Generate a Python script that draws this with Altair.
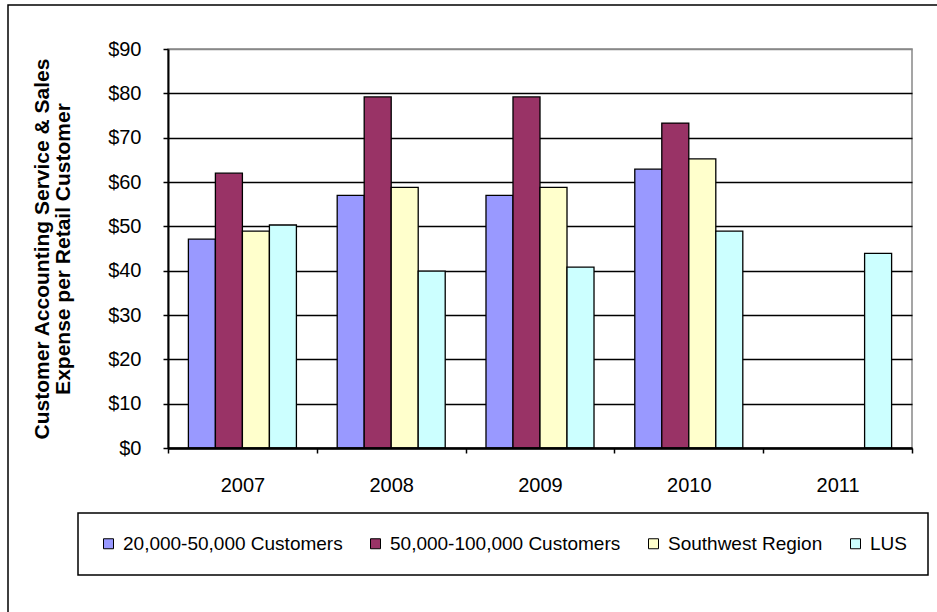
import altair as alt
import pandas as pd

years = ["2007", "2008", "2009", "2010", "2011"]
series = ["20,000-50,000 Customers", "50,000-100,000 Customers", "Southwest Region", "LUS"]
s_20_50k = [47.1, 57.0, 57.0, 62.9, None]
s_50_100k = [62.0, 79.2, 79.2, 73.3, None]
s_southwest = [48.9, 58.8, 58.8, 65.2, None]
s_lus = [50.3, 39.9, 40.8, 48.9, 43.9]
colors = ["#9999FF", "#993366", "#FFFFCC", "#CCFFFF"]
y_ticks = [0, 10, 20, 30, 40, 50, 60, 70, 80, 90]

rows = []
for name, vals in zip(series, [s_20_50k, s_50_100k, s_southwest, s_lus]):
    for yr, v in zip(years, vals):
        if v is not None:
            rows.append({"Year": yr, "Series": name, "Value": v})
df = pd.DataFrame(rows)

FONT = "Liberation Sans"

bars = alt.Chart(df).mark_bar(stroke="black", strokeWidth=1.3).encode(
    x=alt.X(
        "Year:N",
        sort=years,
        scale=alt.Scale(domain=years, paddingInner=0, paddingOuter=0),
        axis=alt.Axis(
            title=None,
            labelAngle=0,
            labelFontSize=20,
            labelColor="black",
            labelPadding=22,
            tickSize=5,
            tickWidth=1.5,
            tickColor="black",
            tickBand="extent",
            domainColor="black",
            domainWidth=2.5,
            grid=False,
            zindex=1,
        ),
    ),
    xOffset=alt.XOffset(
        "Series:N",
        sort=series,
        scale=alt.Scale(domain=series, paddingInner=0, paddingOuter=0.755),
    ),
    y=alt.Y(
        "Value:Q",
        scale=alt.Scale(domain=[0, 90], nice=False),
        axis=alt.Axis(
            values=y_ticks,
            format="$,.0f",
            title=["Customer Accounting Service & Sales", "Expense per Retail Customer"],
            titleFontSize=21,
            titleFontWeight="bold",
            titleColor="black",
            titleAngle=270,
            titleX=-126,
            titleY=199.5,
            titleAlign="center",
            titleBaseline="middle",
            titleLineHeight=21,
            labelFontSize=20,
            labelColor="black",
            labelPadding=22,
            tickSize=5,
            tickWidth=1.5,
            tickColor="black",
            domainColor="black",
            domainWidth=2,
            grid=True,
            gridColor=alt.condition("datum.value == 90", alt.value("#888888"), alt.value("black")),
            gridWidth=1.3,
            zindex=0,
        ),
    ),
    color=alt.Color(
        "Series:N",
        sort=series,
        scale=alt.Scale(domain=series, range=colors),
        legend=alt.Legend(
            title=None,
            orient="none",
            legendX=-90,
            legendY=464,
            direction="horizontal",
            strokeColor="black",
            fillColor="white",
            padding=21,
            symbolType="square",
            symbolSize=100,
            symbolStrokeColor="black",
            symbolStrokeWidth=1,
            labelFontSize=19,
            labelColor="black",
            labelOffset=5,
            labelLimit=1000,
            columnPadding=23,
        ),
    ),
)

frame = alt.Chart(alt.Data(values=[{"f": 1}])).mark_rect(
    fill=None, stroke="black", strokeWidth=1.5
).encode(
    x=alt.value(-160), x2=alt.value(790), y=alt.value(-44), y2=alt.value(580)
)

chart = alt.layer(frame, bars).properties(
    width=744,
    height=399,
    autosize=alt.AutoSizeParams(type="none"),
    padding={"left": 168, "top": 49, "right": 25, "bottom": 164},
).configure(
    font=FONT,
    background="white",
).configure_view(
    stroke="#888888",
    strokeWidth=1.5,
).configure_legend(
    strokeWidth=1.5,
)

chart.save("out.html", embed_options={"renderer": "svg", "actions": False})
